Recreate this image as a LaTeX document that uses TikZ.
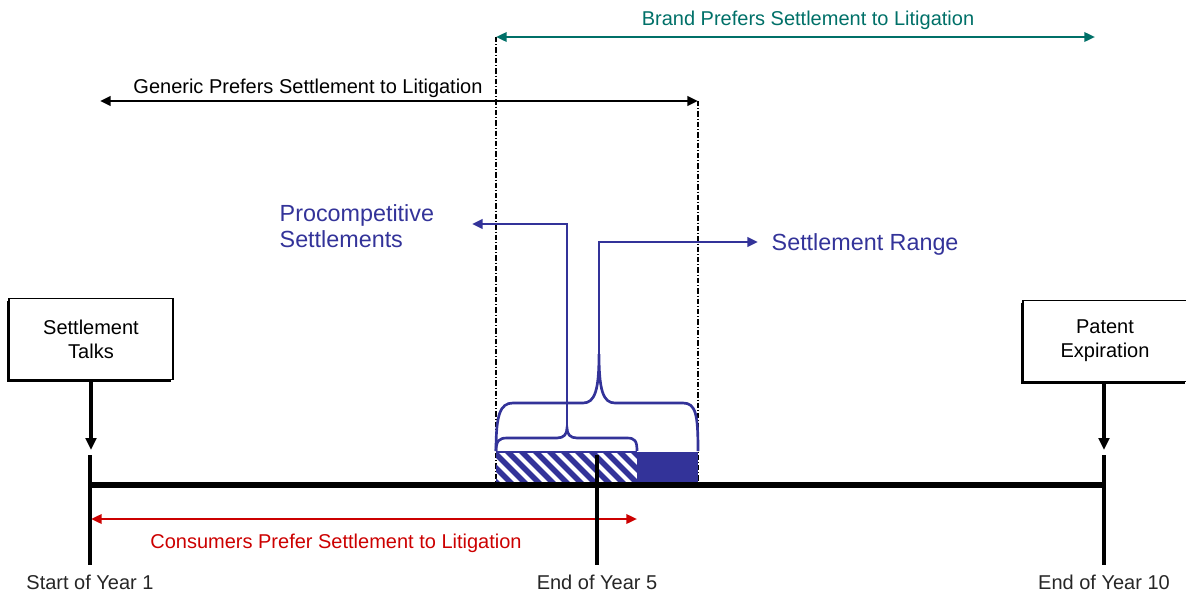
\documentclass[tikz,border=0pt]{standalone}
\usepackage{fontspec}
\setmainfont{Liberation Sans}
\usetikzlibrary{arrows.meta,shadows}
\definecolor{brandteal}{RGB}{0,112,104}
\definecolor{rangeblue}{RGB}{51,51,153}
\definecolor{consred}{RGB}{204,0,0}
\tikzset{
  event/.style={draw, line width=1.1pt, fill=white, align=center,
    minimum width=123pt, minimum height=61pt, font=\fontsize{15}{18}\selectfont,
    drop shadow={shadow xshift=-1.8pt, shadow yshift=-1.8pt, fill=black, opacity=1}},
  tip/.style={{Triangle[length=8pt,width=7pt]}-{Triangle[length=8pt,width=7pt]}},
  onetip/.style={-{Triangle[length=8pt,width=7pt]}},
  blk/.style={font=\fontsize{15}{18}\selectfont},
  big/.style={font=\fontsize{17.5}{19.5}\selectfont, text=rangeblue},
  guide/.style={line width=0.8pt, dash pattern=on 4pt off 1.5pt on 0.8pt off 1.5pt},
}
\begin{document}
\begin{tikzpicture}[x=0.75pt,y=-0.75pt]
	\useasboundingbox (0,0) rectangle (1186,593);
	% guide lines
	\draw[guide] (496,37) -- (496,485);
	\draw[guide] (698,101) -- (698,485);
	% settlement window
	\begin{scope}
		\clip (496,452) rectangle (637,485);
		\foreach \k in {440,454,...,650} \draw[rangeblue, line width=4.2pt] (\k,440) -- (\k+50,490);
	\end{scope}
	\draw[rangeblue, line width=0.8pt] (496,452) -- (637,452);
	\fill[rangeblue] (637,452) rectangle (698,485);
	% braces
	\coordinate (lowCusp) at (567,428);
	\coordinate (highCusp) at (599,354);
	\draw[rangeblue, line width=2pt] (496,451) .. controls (496,441) and (499,438) .. (507,438) -- (557,438)
		.. controls (564,438) and (567,434) .. (lowCusp) .. controls (567,434) and (570,438) .. (577,438)
		-- (627,438) .. controls (635,438) and (637,441) .. (637,451);
	\draw[rangeblue, line width=2pt] (496,451) .. controls (496,415) and (500,403) .. (513,403) -- (583,403)
		.. controls (595,403) and (599,390) .. (highCusp) .. controls (599,390) and (603,403) .. (615,403)
		-- (683,403) .. controls (696,403) and (698,415) .. (698,451);
	% labels of the braces
	\node[big, anchor=west, align=left] (proc) at (275,226) {Procompetitive\\Settlements};
	\node[big, anchor=west] (range) at (767,244) {Settlement Range};
	\coordinate (procTip) at (472,224);
	\coordinate (rangeTip) at (758,242);
	\draw[rangeblue, line width=2.2pt, onetip] (lowCusp) |- (procTip);
	\draw[rangeblue, line width=2.2pt, onetip] (highCusp) |- (rangeTip);
	% preferences
	\coordinate (brandL) at (496,37);
	\coordinate (brandR) at (1095,37);
	\draw[brandteal, line width=1.8pt, tip] (brandL) -- (brandR);
	\node[blk, text=brandteal] (brand) at (808,20) {Brand Prefers Settlement to Litigation};
	\coordinate (genL) at (100,101);
	\coordinate (genR) at (698,101);
	\node[blk] (generic) at (308,88) {Generic Prefers Settlement to Litigation};
	\draw[line width=2.2pt, tip] (genL) -- (genR);
	\coordinate (consL) at (91,519);
	\coordinate (consR) at (637,519);
	\draw[consred, line width=1.8pt, tip] (consL) -- (consR);
	\node[blk, text=consred] (cons) at (336,543) {Consumers Prefer Settlement to Litigation};
	% time line
	\draw[line width=3.9pt] (90,485) -- (1104,485);
	\foreach \x/\lab/\nm in {90/Start of Year 1/y1, 597/End of Year 5/y5, 1104/End of Year 10/y10} {
		\draw[line width=2.6pt] (\x,455) -- (\x,565);
		\node[blk, text=black!85] (\nm) at (\x,582) {\lab};
	}
	% events
	\node[event] (talks) at (91,339) {Settlement\\Talks};
	\node[event] (patent) at (1105,341) {Patent\\Expiration};
	\coordinate (talksTip) at (91,450);
	\coordinate (patentTip) at (1104,450);
	\draw[line width=2.6pt, -{Triangle[length=9pt,width=8pt]}] (talks) -- (talksTip);
	\draw[line width=2.6pt, -{Triangle[length=9pt,width=8pt]}] (patent.south -| patentTip) -- (patentTip);
\end{tikzpicture}
\end{document}
